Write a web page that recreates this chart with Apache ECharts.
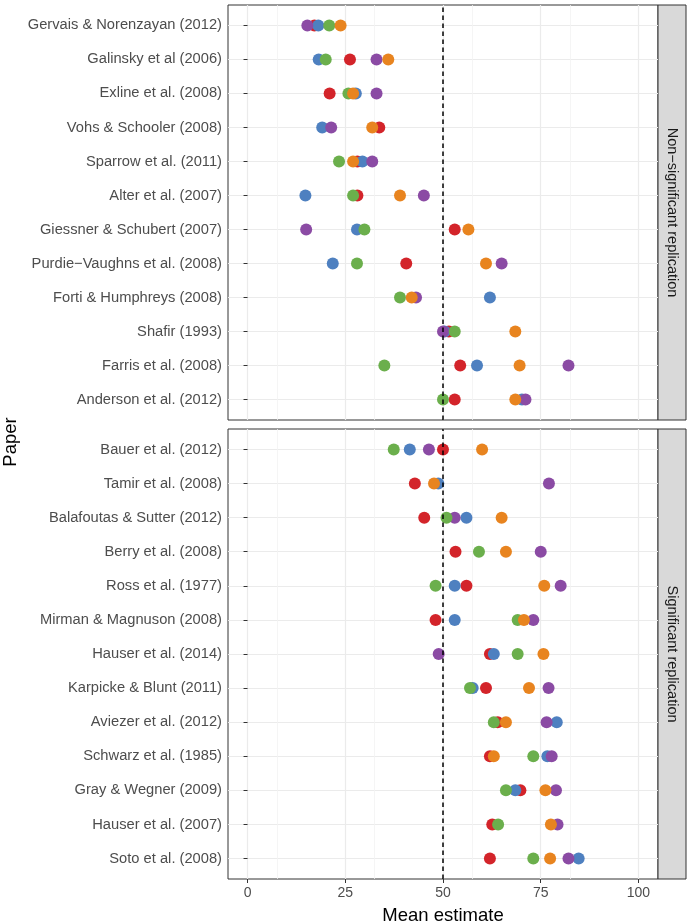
<!DOCTYPE html>
<html lang="en">
<head>
  <meta charset="utf-8" />
  <title>Mean estimate by paper</title>
  <script type="text/javascript" src="https://fastly.jsdelivr.net/npm/echarts@6/dist/echarts.min.js"></script>
</head>
<body style="margin: 0; background: #fff">
  <div id="container" style="width: 692px; height: 923px"></div>
  <script type="text/javascript">
    // papers, top to bottom within each facet
    var nsPapers = ['Gervais & Norenzayan (2012)', 'Galinsky et al (2006)', 'Exline et al. (2008)',
      'Vohs & Schooler (2008)', 'Sparrow et al. (2011)', 'Alter et al. (2007)', 'Giessner & Schubert (2007)',
      'Purdie\u2212Vaughns et al. (2008)', 'Forti & Humphreys (2008)', 'Shafir (1993)', 'Farris et al. (2008)',
      'Anderson et al. (2012)'];
    var sigPapers = ['Bauer et al. (2012)', 'Tamir et al. (2008)', 'Balafoutas & Sutter (2012)', 'Berry et al. (2008)',
      'Ross et al. (1977)', 'Mirman & Magnuson (2008)', 'Hauser et al. (2014)', 'Karpicke & Blunt (2011)',
      'Aviezer et al. (2012)', 'Schwarz et al. (1985)', 'Gray & Wegner (2009)', 'Hauser et al. (2007)',
      'Soto et al. (2008)'];
    var facetLabels = ['Non\u2212significant replication', 'Significant replication'];

    // mean estimates, one array per colour group (null = not visible)
    var nsRed = [17.1, 26.2, 21.0, 33.7, 28.1, 28.1, 53.0, 40.6, null, 51.5, 54.4, 53.0];
    var nsBlue = [18.1, 18.2, 27.7, 19.1, 29.4, 14.8, 28.0, 21.8, 62.0, 50.4, 58.7, 70.2];
    var nsPurple = [15.3, 33.0, 33.0, 21.4, 31.9, 45.1, 15.0, 65.0, 43.1, 50.0, 82.1, 71.1];
    var nsGreen = [20.9, 20.0, 25.8, null, 23.4, 27.0, 29.9, 28.0, 39.0, 53.0, 35.0, 50.0];
    var nsOrange = [23.8, 36.0, 27.0, 31.9, 27.0, 39.0, 56.5, 61.0, 42.0, 68.5, 69.6, 68.5];

    var sigRed = [50.0, 42.8, 45.2, 53.2, 56.0, 48.1, 62.0, 61.0, 64.0, 62.0, 69.8, 62.6, 62.0];
    var sigBlue = [41.5, 48.8, 56.0, null, 53.0, 53.0, 63.0, 57.6, 79.1, 76.7, 68.5, null, 84.7];
    var sigPurple = [46.4, 77.1, 53.0, 75.0, 80.1, 73.1, 48.9, 77.0, 76.5, 77.8, 78.9, 79.3, 82.1];
    var sigGreen = [37.4, null, 50.9, 59.2, 48.1, 69.1, 69.1, 56.9, 63.0, 73.1, 66.1, 64.1, 73.1];
    var sigOrange = [60.0, 47.7, 65.0, 66.1, 75.9, 70.7, 75.7, 72.0, 66.1, 63.0, 76.2, 77.6, 77.4];

    var groupColors = ['#D3242A', '#4E80C0', '#8B4BA4', '#6BAF4C', '#E8841F'];
    var xTicks = [0, 25, 50, 75, 100];
    var refLine = 50;

    var dom = document.getElementById('container');
    var myChart = echarts.init(dom, null, { renderer: 'canvas' });

    var left = 228, right = 658, stripW = 28;
    var panels = [
      { top: 5, height: 415, papers: nsPapers, groups: [nsRed, nsBlue, nsPurple, nsGreen, nsOrange] },
      { top: 429, height: 450, papers: sigPapers, groups: [sigRed, sigBlue, sigPurple, sigGreen, sigOrange] }
    ];

    var grids = [], xAxes = [], yAxes = [], series = [], graphics = [];
    var gridLine = { color: '#EBEBEB', width: 1.2 };

    panels.forEach(function (p, i) {
      var n = p.papers.length;
      // ggplot discrete expansion: 0.6 of a row on each side
      var unit = p.height / (n - 1 + 1.2);
      var frame = grids.length, inner = frame + 1;
      var isBottom = i === panels.length - 1;

      grids.push({ left: left, width: right - left, top: p.top, height: p.height, show: true,
        outerBoundsMode: 'none', containLabel: false,
        backgroundColor: '#fff', borderColor: '#333', borderWidth: 1 });
      grids.push({ left: left, width: right - left, top: p.top + 0.6 * unit, height: (n - 1) * unit,
        outerBoundsMode: 'none', containLabel: false });

      xAxes.push({
        gridIndex: frame, type: 'value', min: -5, max: 105, interval: 25,
        axisLine: { show: false },
        axisTick: { show: isBottom, length: 4, lineStyle: { color: '#333' },
          customValues: xTicks },
        axisLabel: { show: isBottom, color: '#4D4D4D', fontSize: 14, margin: 7,
          fontFamily: 'Liberation Sans', customValues: xTicks },
        splitLine: { lineStyle: gridLine },
        minorTick: { show: false, splitNumber: 2 },
        minorSplitLine: { show: true, lineStyle: { color: '#F2F2F2', width: 0.8 } },
        name: isBottom ? 'Mean estimate' : '',
        nameLocation: 'middle', nameGap: 27,
        nameTextStyle: { color: '#000', fontSize: 18.5, fontFamily: 'Liberation Sans' }
      });
      xAxes.push({ gridIndex: inner, type: 'value', min: -5, max: 105, show: false });

      yAxes.push({ gridIndex: frame, type: 'value', min: 0, max: 1, show: false });
      yAxes.push({
        gridIndex: inner, type: 'category', data: p.papers, inverse: true, boundaryGap: false,
        axisLine: { show: false },
        axisTick: { show: true, length: 4, lineStyle: { color: '#333' } },
        axisLabel: { color: '#4D4D4D', fontSize: 14.7, margin: 6, interval: 0, fontFamily: 'Liberation Sans' },
        splitLine: { show: true, interval: 0, lineStyle: gridLine }
      });

      p.groups.forEach(function (vals, g) {
        var pts = [];
        vals.forEach(function (v, j) { if (v !== null) pts.push([v, j]); });
        series.push({
          type: 'scatter', xAxisIndex: inner, yAxisIndex: inner, data: pts,
          symbolSize: 12, clip: false, z: 3, silent: true,
          itemStyle: { color: groupColors[g], opacity: 1 }
        });
      });

      series.push({
        type: 'line', xAxisIndex: frame, yAxisIndex: frame, z: 6, silent: true,
        data: [[refLine, 0], [refLine, 1]], symbol: 'none',
        lineStyle: { color: '#000', width: 1.5, type: [4.5, 3.5] }
      });

      graphics.push({
        type: 'rect', shape: { x: right, y: p.top, width: stripW, height: p.height },
        style: { fill: '#D9D9D9', stroke: '#333', lineWidth: 1 }
      });
      graphics.push({
        type: 'text', x: right + stripW / 2, y: p.top + p.height / 2, rotation: -Math.PI / 2,
        style: { text: facetLabels[i], fill: '#1A1A1A', font: '14.5px "Liberation Sans"',
          align: 'center', verticalAlign: 'middle' }
      });
    });

    graphics.push({
      type: 'text', x: 11, y: (panels[0].top + panels[1].top + panels[1].height) / 2, rotation: Math.PI / 2,
      style: { text: 'Paper', fill: '#000', font: '18.5px "Liberation Sans"', align: 'center', verticalAlign: 'middle' }
    });

    var option = {
      animation: false,
      grid: grids,
      xAxis: xAxes,
      yAxis: yAxes,
      series: series,
      graphic: graphics
    };
    myChart.setOption(option);

    window.addEventListener('resize', myChart.resize);
  </script>
</body>
</html>
